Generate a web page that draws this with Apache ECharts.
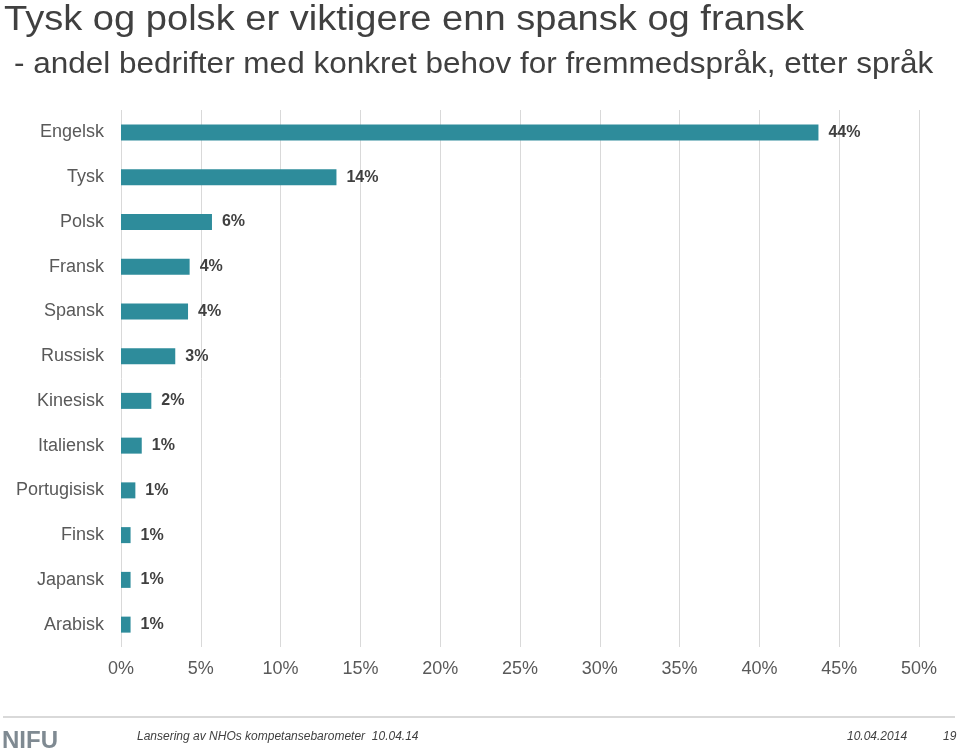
<!DOCTYPE html>
<html><head><meta charset="utf-8">
<script src="https://cdn.jsdelivr.net/npm/echarts@6/dist/echarts.min.js"></script>
<style>html,body{margin:0;padding:0;background:#fff}#c{width:959px;height:755px}</style>
</head><body><div id="c"></div>
<script>
const categories = ["Engelsk","Tysk","Polsk","Fransk","Spansk","Russisk","Kinesisk","Italiensk","Portugisisk","Finsk","Japansk","Arabisk"];
const values = [43.7,13.5,5.7,4.3,4.2,3.4,1.9,1.3,0.9,0.6,0.6,0.6];
const valueLabels = ["44%","14%","6%","4%","4%","3%","2%","1%","1%","1%","1%","1%"];
const titleText = "Tysk og polsk er viktigere enn spansk og fransk";
const subtitleText = "- andel bedrifter med konkret behov for fremmedspråk, etter språk";
const footerText = "Lansering av NHOs kompetansebarometer  10.04.14";
const footerDate = "10.04.2014";
const pageNo = "19";

const chart = echarts.init(document.getElementById('c'), null, {renderer:'canvas'});
const F = 'Liberation Sans, Arial, sans-serif';
chart.setOption({
  animation:false,
  grid:{left:121, right:40, top:110, bottom:108, containLabel:false},
  xAxis:{type:'value', min:0, max:50, interval:5,
    axisLabel:{formatter:'{value}%', color:'#595959', fontSize:18, fontFamily:F, margin:13},
    splitLine:{show:true, lineStyle:{color:'#d9d9d9', width:1}},
    axisLine:{show:false}, axisTick:{show:false}},
  yAxis:{type:'category', inverse:true, data:categories,
    axisLabel:{color:'#595959', fontSize:18, fontFamily:F, margin:17},
    axisLine:{show:false}, axisTick:{show:false}},
  series:[{type:'bar', data:values, barWidth:16,
    itemStyle:{color:'#2e8c9b'},
    label:{show:true, position:'right', distance:10, color:'#404040', fontSize:16, fontWeight:'bold', fontFamily:F,
      formatter:p=>valueLabels[p.dataIndex]}}],
  graphic:[
    {type:'text', x:4, y:3, scaleX:1.088, style:{text:titleText, font:'35px '+F, fill:'#404040'}},
    {type:'text', x:14, y:50, scaleX:1.05, style:{text:subtitleText, font:'30px '+F, fill:'#404040'}},
    {type:'line', shape:{x1:3,y1:717,x2:955,y2:717}, style:{stroke:'#d9d9d9', lineWidth:2}},
    {type:'text', x:2, y:729, style:{text:'NIFU', font:'bold 24px '+F, fill:'#7f8a92'}},
    {type:'text', x:137, y:731, style:{text:footerText, font:'italic 12px '+F, fill:'#404040'}},
    {type:'text', x:847, y:731, style:{text:footerDate, font:'italic 12px '+F, fill:'#404040'}},
    {type:'text', x:943, y:731, style:{text:pageNo, font:'italic 12px '+F, fill:'#404040'}}
  ]
});
</script></body></html>
